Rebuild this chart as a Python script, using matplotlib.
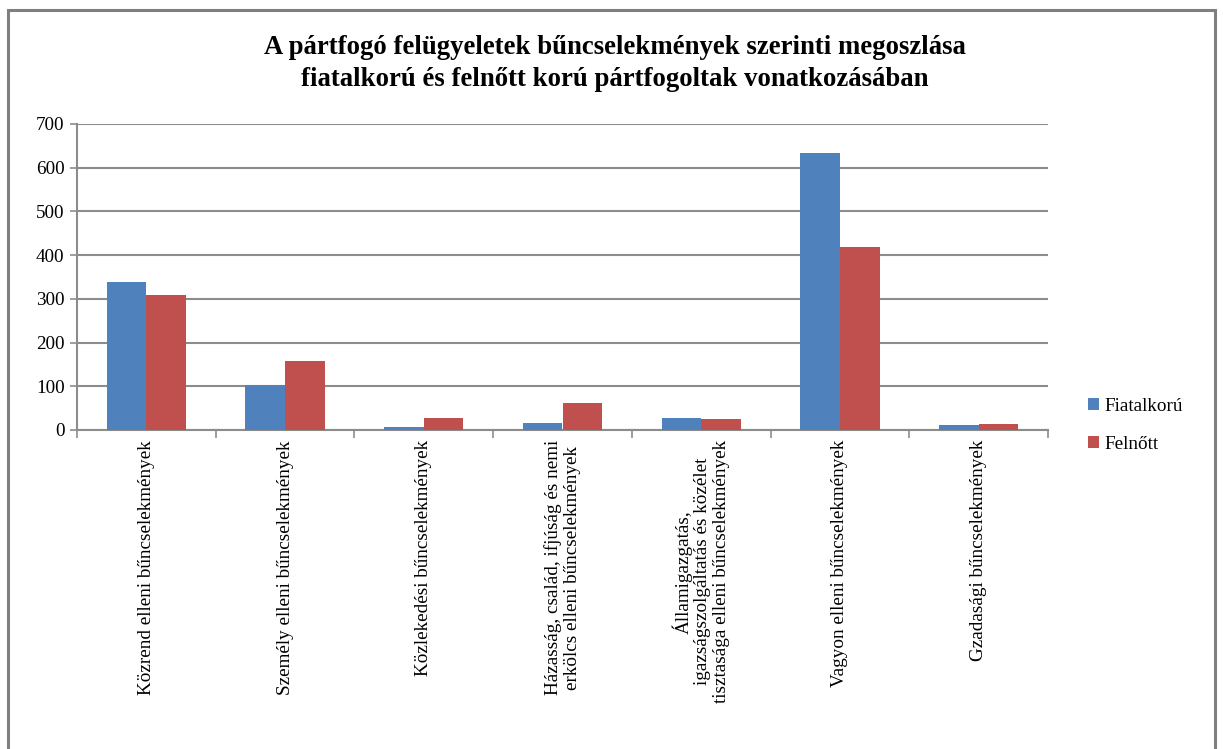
import matplotlib
import matplotlib.pyplot as plt
import numpy as np
from matplotlib.patches import Rectangle

matplotlib.use("Agg")

plt.rcParams["font.family"] = ["Liberation Serif", "DejaVu Serif"]

categories = [
    "Közrend elleni bűncselekmények",
    "Személy elleni bűncselekmények",
    "Közlekedési bűncselekmények",
    "Házasság, család, ifjúság és nemi\nerkölcs elleni bűncselekmények",
    "Államigazgatás,\nigazságszolgáltatás és közélet\ntisztasága elleni bűncselekmények",
    "Vagyon elleni bűncselekmények",
    "Gzadasági bűncselekmények",
]
fiatalkoru = [339, 103, 7, 16, 27, 634, 11]
felnott = [309, 158, 27, 62, 25, 419, 14]
y_ticks = [0, 100, 200, 300, 400, 500, 600, 700]

BLUE = "#4F81BD"
RED = "#C0504D"
GRID = "#8C8C8C"

W, H = 1223, 749
fig = plt.figure(figsize=(W / 100, H / 100), dpi=100)

# outer chart border
fig.patches.append(Rectangle((8 / W, -0.01), (1215 - 8) / W, 1 - 10 / H + 0.01,
                             transform=fig.transFigure, fill=False,
                             edgecolor="#7F7F7F", linewidth=2.2))

left, right, top, bottom = 77, 1048, 124, 430
ax = fig.add_axes([left / W, 1 - bottom / H, (right - left) / W, (bottom - top) / H])

x = np.arange(len(categories))
bw = 1 / 3.5
ax.bar(x - bw / 2, fiatalkoru, bw, color=BLUE, label="Fiatalkorú", zorder=3)
ax.bar(x + bw / 2, felnott, bw, color=RED, label="Felnőtt", zorder=3)

ax.set_xlim(-0.5, len(categories) - 0.5)
ax.set_ylim(0, 700)
ax.set_yticks(y_ticks)
ax.set_yticklabels([str(v) for v in y_ticks], fontsize=13.8)
ax.yaxis.grid(True, color=GRID, linewidth=1.5, zorder=0)
ax.set_axisbelow(True)

for s in ["top", "right"]:
    ax.spines[s].set_visible(False)
for s in ["left", "bottom"]:
    ax.spines[s].set_color(GRID)
    ax.spines[s].set_linewidth(1.5)
ax.tick_params(axis="y", length=5, color=GRID, width=1.2, pad=4)

# category boundary ticks on x axis
ax.set_xticks(np.arange(-0.5, len(categories) + 0.5, 1))
ax.set_xticklabels([])
ax.tick_params(axis="x", length=6, color=GRID, width=1.2, direction="out")
for i, lab in enumerate(categories):
    ax.text(i, -0.033, lab, transform=ax.get_xaxis_transform(), rotation=90,
            ha="center", va="top", multialignment="center", fontsize=13.8,
            linespacing=1.15)

fig.text(0.503, 1 - 48 / H, "A pártfogó felügyeletek bűncselekmények szerinti megoszlása",
         ha="center", va="center", fontsize=19.3, fontweight="bold")
fig.text(0.503, 1 - 80 / H, "fiatalkorú és felnőtt korú pártfogoltak vonatkozásában",
         ha="center", va="center", fontsize=19.3, fontweight="bold")

fig.legend(loc="upper left", bbox_to_anchor=(1080 / W, 1 - 390 / H), frameon=False,
           fontsize=13.8, handlelength=0.6, handleheight=0.6, handletextpad=0.3,
           labelspacing=1.1, borderaxespad=0)

fig.savefig("out.png", dpi=100)
